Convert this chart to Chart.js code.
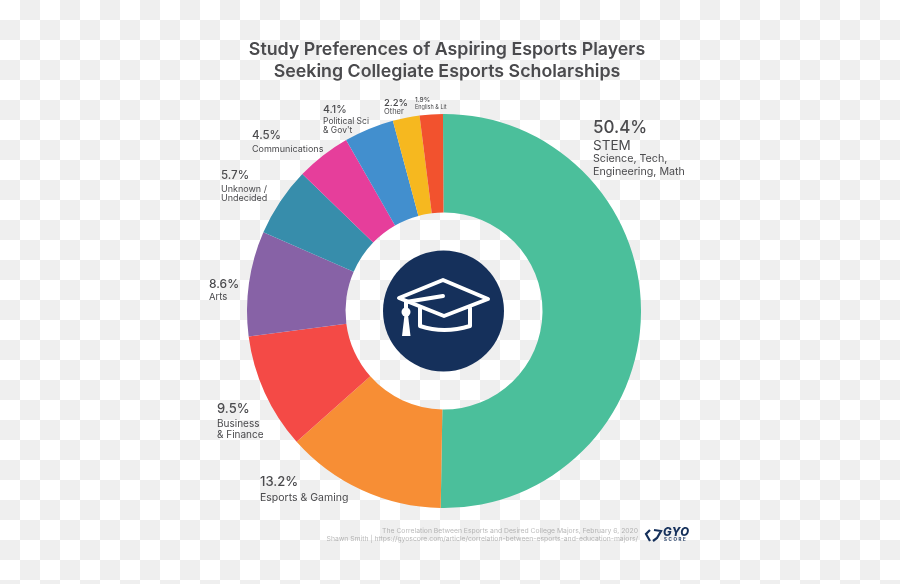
<!DOCTYPE html>
<html>
<head>
<meta charset="utf-8">
<title>Study Preferences of Aspiring Esports Players</title>
<script src="https://cdn.jsdelivr.net/npm/chart.js@4/dist/chart.umd.min.js"></script>
<style>
    html, body { margin: 0; padding: 0; }
    body {
        width: 900px;
        height: 584px;
        overflow: hidden;
        background: repeating-conic-gradient(#efefef 0 25%, #fff 0 50%) 0 0 / 40px 40px;
    }
    canvas { display: block; }
</style>
</head>
<body>
<canvas id="chart" width="900" height="584"></canvas>
<script>
const titleLines = ['Study Preferences of Aspiring Esports Players', 'Seeking Collegiate Esports Scholarships'];
const categories = ['STEM', 'Esports & Gaming', 'Business & Finance', 'Arts', 'Unknown / Undecided', 'Communications', 'Political Sci & Gov\'t', 'Other', 'English & Lit'];
const shares = [50.4, 13.2, 9.5, 8.6, 5.7, 4.5, 4.1, 2.2, 1.9];
const sliceColors = ['#4bbf9b', '#f78e35', '#f44a46', '#8762a6', '#378dab', '#e63e9b', '#428fce', '#f6b81f', '#f2522e'];
const footerLines = [
    'The Correlation Between Esports and Desired College Majors, February 6, 2020',
    'Shawn Smith | https://gyoscore.com/article/correlation-between-esports-and-education-majors/'
];

const FONT = 'Inter, sans-serif';
const INK = '#4a4a4d';

// hand placed callouts, one per slice, same order as categories
const callouts = [
    { x: 593, y: 128, size: 17, lines: [['Science, Tech,', 159, 10.7], ['Engineering, Math', 172, 10.7]], head: ['STEM', 146, 13.5] },
    { x: 260, y: 482, size: 13, lines: [['Esports & Gaming', 498, 10.5]] },
    { x: 217, y: 409, size: 13, lines: [['Business', 424, 10], ['& Finance', 435, 10]] },
    { x: 209, y: 284, size: 12, lines: [['Arts', 297, 9.5]] },
    { x: 221, y: 176, size: 11.5, lines: [['Unknown /', 189, 9], ['Undecided', 198, 9]] },
    { x: 252, y: 136, size: 11.5, lines: [['Communications', 149, 9]] },
    { x: 323, y: 110, size: 10.5, lines: [['Political Sci', 121, 8.5], ['& Gov\'t', 130, 8.5]] },
    { x: 384, y: 103, size: 9.5, lines: [['Other', 112, 7.5]] },
    { x: 415, y: 100, size: 6.5, lines: [['English & Lit', 107, 5.5]] }
];

const titlePlugin = {
    id: 'pageTitle',
    afterDraw(chart) {
        const ctx = chart.ctx;
        ctx.save();
        ctx.textAlign = 'center';
        ctx.textBaseline = 'alphabetic';
        ctx.fillStyle = INK;
        ctx.font = '600 17.8px ' + FONT;
        ctx.fillText(titleLines[0], 447, 55);
        ctx.fillText(titleLines[1], 447, 77);
        ctx.restore();
    }
};

const calloutPlugin = {
    id: 'callouts',
    afterDraw(chart) {
        const ctx = chart.ctx;
        ctx.save();
        ctx.textBaseline = 'middle';
        ctx.textAlign = 'left';
        ctx.fillStyle = INK;
        callouts.forEach((c, i) => {
            ctx.font = '500 ' + c.size + 'px ' + FONT;
            ctx.fillText(shares[i].toFixed(1) + '%', c.x, c.y);
            if (c.head) {
                ctx.font = '400 ' + c.head[2] + 'px ' + FONT;
                ctx.fillText(c.head[0], c.x, c.head[1]);
            }
            c.lines.forEach(l => {
                ctx.font = '400 ' + l[2] + 'px ' + FONT;
                ctx.fillText(l[0], c.x, l[1]);
            });
        });
        ctx.restore();
    }
};

const capPlugin = {
    id: 'capBadge',
    afterDraw(chart) {
        const arc = chart.getDatasetMeta(0).data[0];
        const ctx = chart.ctx;
        ctx.save();
        ctx.translate(arc.x, arc.y);
        ctx.fillStyle = '#15305b';
        ctx.beginPath();
        ctx.arc(-0.5, 0, 60.5, 0, Math.PI * 2);
        ctx.fill();

        ctx.strokeStyle = '#fff';
        ctx.fillStyle = '#fff';
        ctx.lineWidth = 4;
        ctx.lineJoin = 'round';
        ctx.lineCap = 'round';
        // board
        ctx.beginPath();
        ctx.moveTo(-1, -31);
        ctx.lineTo(44, -12);
        ctx.lineTo(0, 5);
        ctx.lineTo(-45, -13);
        ctx.closePath();
        ctx.stroke();
        // strap
        ctx.beginPath();
        ctx.moveTo(-1, -15);
        ctx.lineTo(-38, -9);
        ctx.lineTo(-38, 0);
        ctx.stroke();
        // skull part
        ctx.beginPath();
        ctx.moveTo(-24, -3);
        ctx.lineTo(-24, 15);
        ctx.quadraticCurveTo(0, 23, 26, 15);
        ctx.lineTo(26, -3);
        ctx.stroke();
        // tassel
        ctx.beginPath();
        ctx.arc(-38, 1, 4.5, 0, Math.PI * 2);
        ctx.fill();
        ctx.beginPath();
        ctx.moveTo(-39.5, 4);
        ctx.lineTo(-36, 4);
        ctx.lineTo(-33.5, 25);
        ctx.lineTo(-42, 25);
        ctx.closePath();
        ctx.fill();
        ctx.restore();
    }
};

const footerPlugin = {
    id: 'footer',
    afterDraw(chart) {
        const ctx = chart.ctx;
        ctx.save();
        ctx.textBaseline = 'middle';
        ctx.textAlign = 'right';
        ctx.fillStyle = 'rgba(130, 130, 130, 0.55)';
        ctx.font = '400 6.8px ' + FONT;
        ctx.fillText(footerLines[0], 638, 531);
        ctx.fillText(footerLines[1], 638, 539);

        // GYO Score mark
        ctx.textAlign = 'left';
        ctx.fillStyle = '#15305b';
        ctx.strokeStyle = '#15305b';
        ctx.font = 'italic 800 11.5px ' + FONT;
        ctx.letterSpacing = '0.4px';
        ctx.fillText('GYO', 663, 532.5);
        ctx.font = '700 4.5px ' + FONT;
        ctx.letterSpacing = '1.6px';
        ctx.fillText('SCORE', 664, 540);
        ctx.lineWidth = 2.2;
        ctx.beginPath();
        ctx.moveTo(650, 530);
        ctx.lineTo(646, 534);
        ctx.lineTo(650, 541);
        ctx.moveTo(654, 530);
        ctx.lineTo(661, 531);
        ctx.lineTo(657, 538);
        ctx.lineTo(653, 541);
        ctx.stroke();
        ctx.restore();
    }
};

new Chart(document.getElementById('chart').getContext('2d'), {
    type: 'doughnut',
    data: {
        labels: categories,
        datasets: [{
            data: shares,
            backgroundColor: sliceColors,
            borderWidth: 0
        }]
    },
    options: {
        responsive: false,
        animation: false,
        cutout: '50%',
        rotation: -0.3,
        layout: {
            padding: { left: 247, right: 259, top: 114, bottom: 76 }
        },
        plugins: {
            legend: { display: false },
            tooltip: { enabled: false },
            title: { display: false }
        }
    },
    plugins: [capPlugin, titlePlugin, calloutPlugin, footerPlugin]
});
</script>
</body>
</html>
